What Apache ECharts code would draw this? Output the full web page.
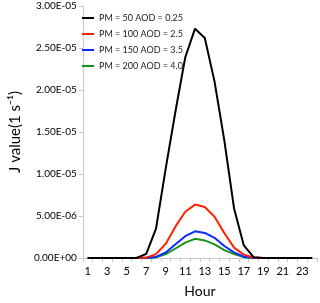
<!DOCTYPE html>
<html><head><meta charset="utf-8">
<script src="https://cdn.jsdelivr.net/npm/echarts@6/dist/echarts.min.js"></script>
<style>html,body{margin:0;padding:0;background:#fff}#c{width:320px;height:303px}</style>
</head><body><div id="c"></div>
<script>
var hours = ['1','2','3','4','5','6','7','8','9','10','11','12','13','14','15','16','17','18','19','20','21','22','23','24'];
var seriesNames = ['PM = 50 AOD = 0.25','PM = 100 AOD = 2.5','PM = 150 AOD = 3.5','PM = 200 AOD = 4.0'];
var pm50  = [0,0,0,0,0,0,5.0e-7,3.5e-6,1.07e-5,1.75e-5,2.39e-5,2.73e-5,2.62e-5,2.10e-5,1.40e-5,5.9e-6,1.5e-6,1.0e-7,0,0,0,0,0,0];
var pm100 = [0,0,0,0,0,0,5.0e-8,4.6e-7,1.7e-6,3.76e-6,5.5e-6,6.36e-6,6.08e-6,4.92e-6,2.98e-6,1.24e-6,4.0e-7,5.0e-8,0,0,0,0,0,0];
var pm150 = [0,0,0,0,0,0,0,1.2e-7,6.6e-7,1.63e-6,2.6e-6,3.18e-6,2.98e-6,2.4e-6,1.43e-6,6.6e-7,1.5e-7,0,0,0,0,0,0,0];
var pm200 = [0,0,0,0,0,0,0,8.0e-8,4.6e-7,1.13e-6,1.83e-6,2.28e-6,2.09e-6,1.63e-6,9.3e-7,4.6e-7,1.0e-7,0,0,0,0,0,0,0];
var colors = ['#000000','#ff2200','#0a2cff','#16921a'];
var yMax = 3e-5, yStep = 5e-6;

function fmt(v){
  if (Math.abs(v) < 1e-15) return '0.00E+00';
  var s = v.toExponential(2).toUpperCase();
  var p = s.split('E');
  var e = parseInt(p[1],10);
  var sign = e < 0 ? '-' : '+';
  var a = Math.abs(e);
  return p[0] + 'E' + sign + (a < 10 ? '0' + a : a);
}
var FONT = 'Lato';
var data = [pm50, pm100, pm150, pm200];
var series = data.map(function(d,i){
  return {name: seriesNames[i], type:'line', data:d, symbol:'none', smooth:false,
    lineStyle:{color:colors[i], width:2}, itemStyle:{color:colors[i]}, z: 10 - i};
});
var chart = echarts.init(document.getElementById('c'), null, {renderer:'canvas'});
chart.setOption({
  animation:false,
  backgroundColor:'#fff',
  grid:{left:71, right:3, top:6, bottom:39},
  legend:{orient:'vertical', left:77, top:5, itemWidth:12, itemHeight:2, itemGap:0,
    icon:'rect', data:seriesNames,
    textStyle:{fontFamily:FONT, fontSize:9, color:'#222', lineHeight:16}},
  xAxis:{type:'category', data:hours, boundaryGap:true,
    name:'Hour', nameLocation:'middle', nameGap:26,
    nameTextStyle:{fontFamily:FONT, fontSize:14, color:'#000'},
    axisLine:{lineStyle:{color:'#c8c8c8', width:1}},
    axisTick:{show:true, interval:0, length:4, lineStyle:{color:'#c8c8c8'}},
    axisLabel:{interval:1, fontFamily:FONT, fontSize:11, color:'#000', margin:8}},
  yAxis:{type:'value', min:0, max:yMax, interval:yStep,
    name:'J value(1 s\u207B\u00B9)', nameLocation:'middle', nameGap:52,
    nameTextStyle:{fontFamily:FONT, fontSize:15, color:'#000'},
    axisLine:{show:true, lineStyle:{color:'#c8c8c8'}},
    axisTick:{show:true, length:4, lineStyle:{color:'#c8c8c8'}},
    splitLine:{show:false},
    axisLabel:{formatter:fmt, fontFamily:FONT, fontSize:10, color:'#000', margin:6}},
  series:series
});
</script></body></html>
